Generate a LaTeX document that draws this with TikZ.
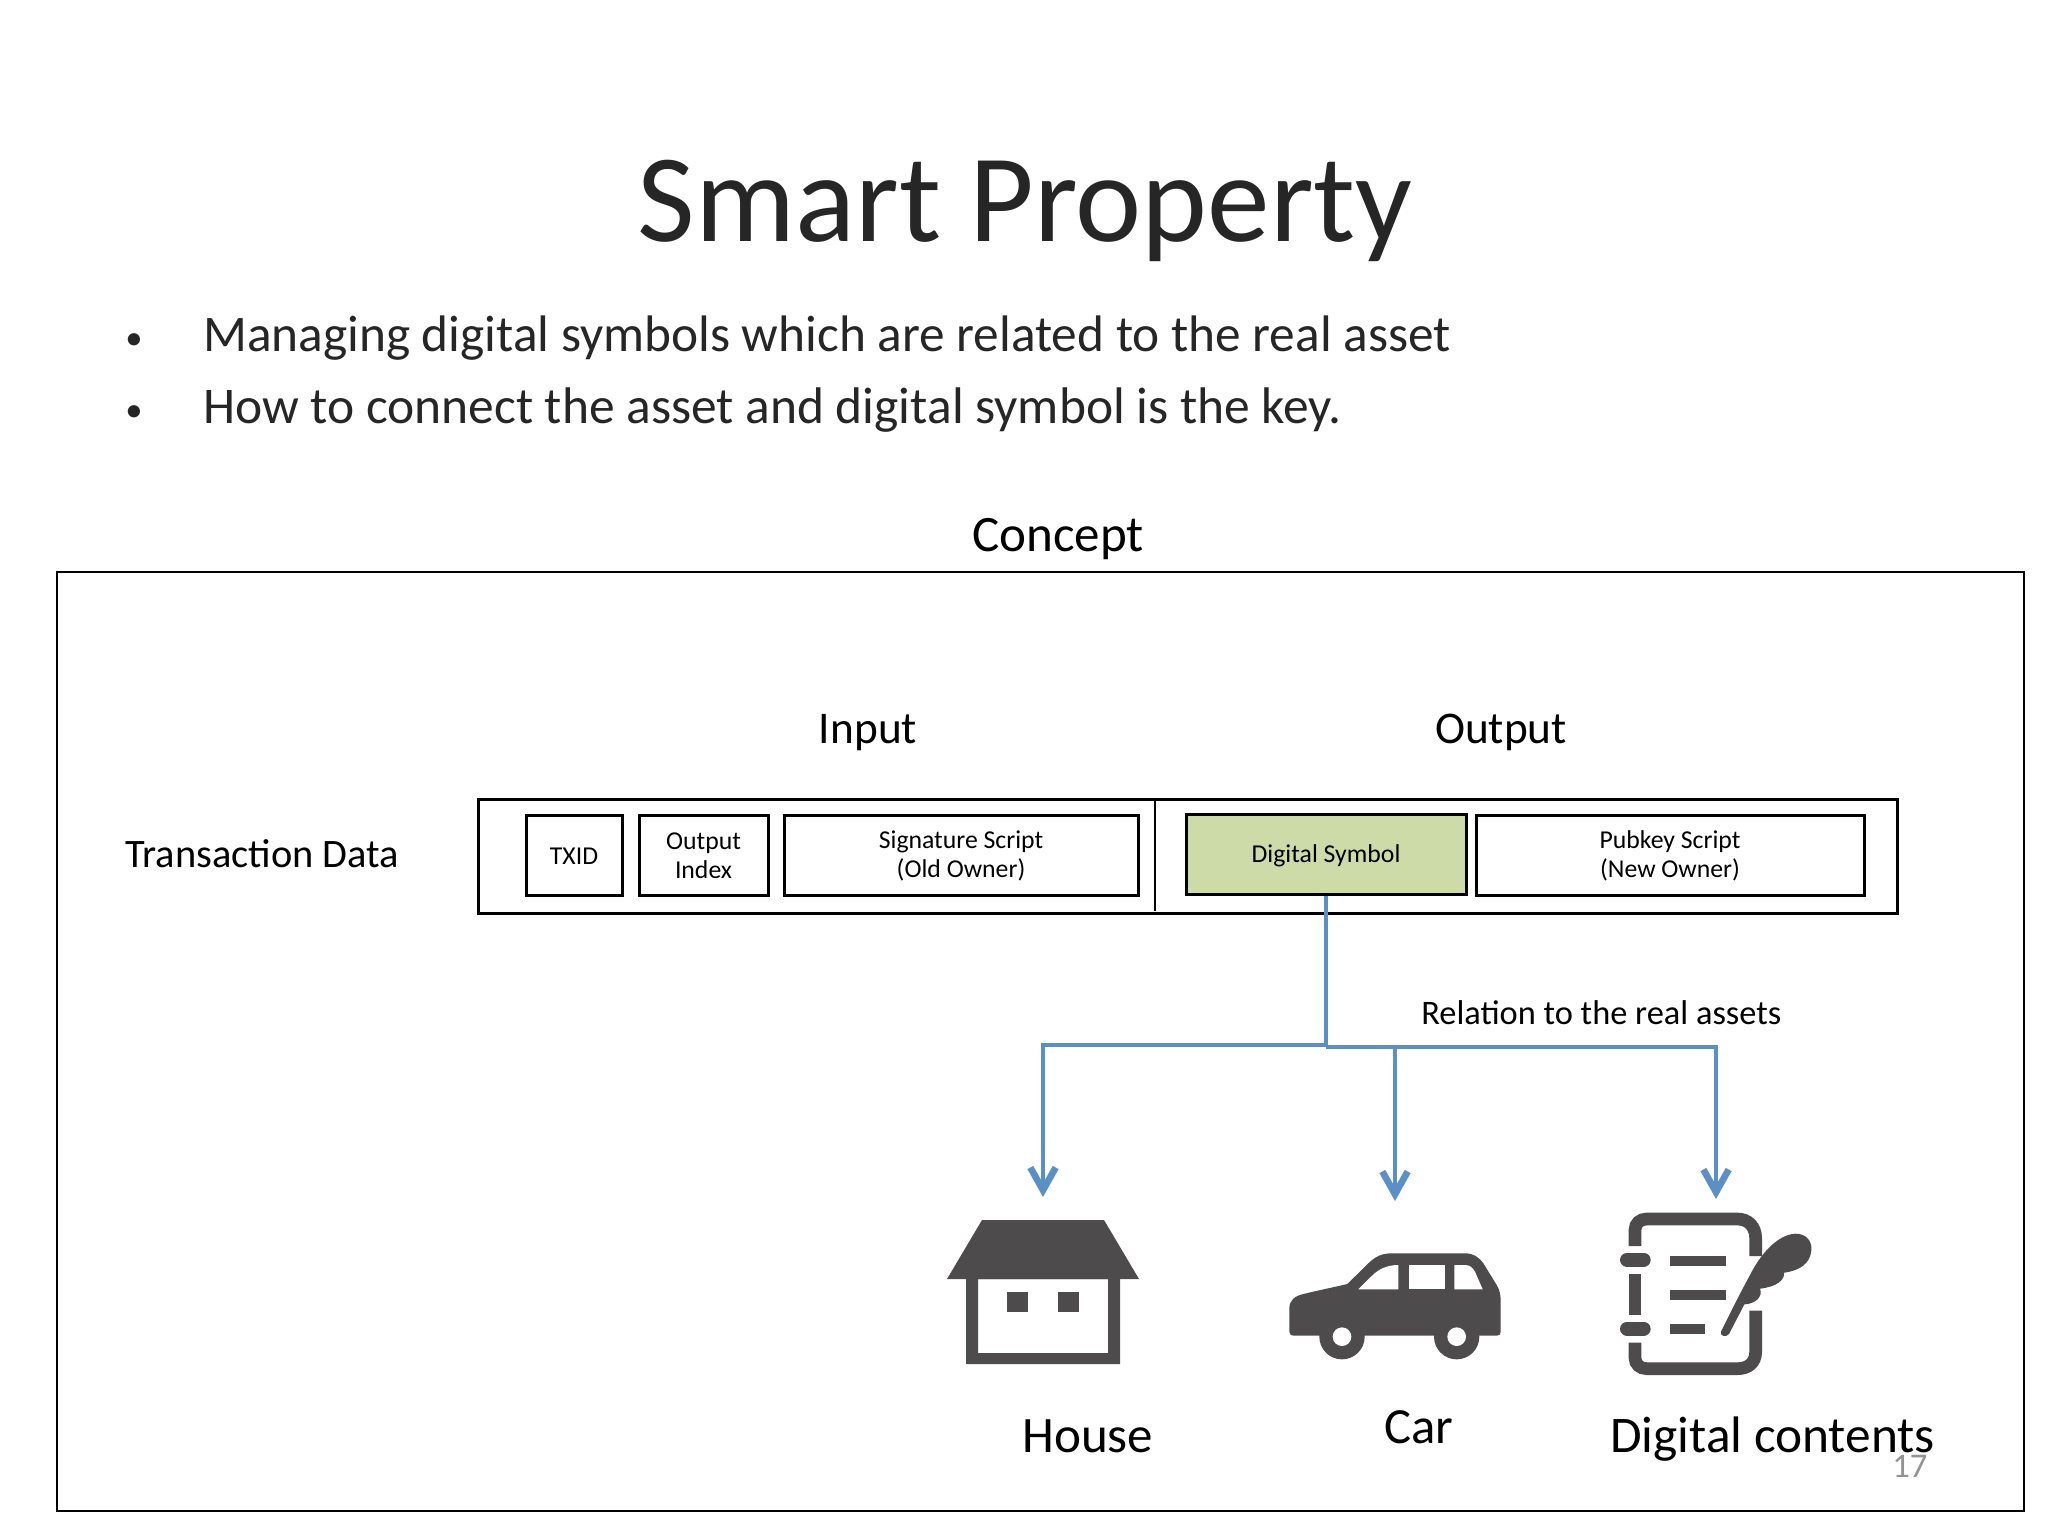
\documentclass[tikz,border=0pt]{standalone}
\usepackage{fontspec}
\setmainfont{Carlito}
\usetikzlibrary{arrows.meta}
\definecolor{icon}{HTML}{4D4B4C}
\definecolor{flow}{HTML}{5B90C6}
\definecolor{ink}{HTML}{262626}
\definecolor{symbolfill}{HTML}{CDDBA8}
\newcommand{\sz}[1]{\fontsize{#1}{#1}\selectfont}
\tikzset{
  label/.style={inner sep=0pt,anchor=base,black},
  cell/.style={draw=black,line width=2.3pt,fill=white,inner sep=0pt,anchor=north west},
  celltext/.style={inner sep=0pt,align=center,yshift=-0.8pt,font=\fontsize{19.3}{21.8}\selectfont},
  wire/.style={draw=flow,line width=3.4pt},
  tipwire/.style={wire,-{Straight Barb[length=17pt,width=19pt,line width=5pt]}},
}
\begin{document}
\begin{tikzpicture}[x=0.75pt,y=-0.75pt]
\useasboundingbox (0,0) rectangle (2048,1536);
\fill[white] (0,0) rectangle (2048,1536);
% texts
\node[label,text=ink] (title) at (1025,241) {\sz{94}Smart Property};
\node[label,text=ink] (b1) at (134,349) {\sz{26}•};
\node[label,text=ink,anchor=base west] (t1) at (203,351) {\sz{38.5}Managing digital symbols which are related to the real asset};
\node[label,text=ink] (b2) at (134,421) {\sz{26}•};
\node[label,text=ink,anchor=base west] (t2) at (203,423) {\sz{38.6}How to connect the asset and digital symbol is the key.};
\node[label] (concept) at (1058,551) {\sz{38.3}Concept};
\node[draw=black,line width=1.6pt,minimum width=1967*0.75pt,minimum height=939*0.75pt,inner sep=0pt,anchor=north west] (frame) at (56,571) {};
\node[label] (input) at (868,743) {\sz{34}Input};
\node[label] (output) at (1501,743) {\sz{34}Output};
\node[label,anchor=base west] (txdata) at (125,867) {\sz{30.3}Transaction Data};
% record
\node[draw=black,line width=2.4pt,minimum width=1419*0.75pt,minimum height=114*0.75pt,inner sep=0pt,anchor=north west] (record) at (476.5,797.5) {};
\coordinate (divTop) at (1155,798);
\coordinate (divBot) at (1155,911);
\draw[black,line width=1.8pt] (divTop) -- (divBot);
\node[cell,minimum width=96*0.75pt,minimum height=80*0.75pt] (txid) at (524.5,813.5) {};
\node[cell,minimum width=129*0.75pt,minimum height=80*0.75pt] (oindex) at (637.5,813.5) {};
\node[cell,minimum width=354*0.75pt,minimum height=80*0.75pt] (sig) at (782.5,813.5) {};
\node[cell,fill=symbolfill,minimum width=280*0.75pt,minimum height=80*0.75pt] (symbol) at (1184.5,813) {};
\node[cell,minimum width=388*0.75pt,minimum height=80*0.75pt] (pub) at (1474.5,813.5) {};
\node[celltext] (txidT) at (txid.center) {TXID};
\node[celltext] (oindexT) at (oindex.center) {Output\\Index};
\node[celltext] (sigT) at (sig.center) {Signature Script\\(Old Owner)};
\node[celltext] (symbolT) at (symbol.center) {Digital Symbol};
\node[celltext] (pubT) at (pub.center) {Pubkey Script\\(New Owner)};
\node[label,anchor=base west] (rel) at (1421,1024) {\sz{25.8}Relation to the real assets};
% connectors
\coordinate (jA) at (symbol.south |- 0,1045);
\coordinate (jB) at (symbol.south |- 0,1047);
\coordinate (hTurn) at (1043,1045);
\coordinate (cTurn) at (1395,1047);
\coordinate (dTurn) at (1716,1047);
\coordinate (hTip) at (1043,1197);
\coordinate (cTip) at (1395,1201);
\coordinate (dTip) at (1716,1199);
\draw[wire] (symbol.south) -- (jB);
\draw[tipwire] (jA) -- (hTurn) -- (hTip);
\draw[tipwire] (cTurn) -- (cTip);
\draw[tipwire] (jB) -- (dTurn) -- (dTip);
% house
\fill[icon] (982,1220) -- (1104,1220) -- (1139,1279) -- (947,1279) -- cycle;
\fill[icon,even odd rule] (966,1275) rectangle (1120,1364) (978,1279) rectangle (1108,1353);
\fill[icon] (1007,1292) rectangle (1028,1312);
\fill[icon] (1058,1292) rectangle (1079,1312);
% car
\begin{scope}[shift={(1270,1220)},x=0.25pt,y=-0.25pt]
\fill[icon] (58,265) .. controls (58,240) and (75,228) .. (100,222)
 .. controls (140,212) and (190,202) .. (232,192)
 -- (295,130) .. controls (315,110) and (335,100) .. (365,100)
 -- (585,100) .. controls (610,100) and (625,110) .. (640,130)
 -- (680,195) .. controls (690,212) and (692,225) .. (692,245)
 -- (692,335) .. controls (692,343) and (688,347) .. (680,347) -- (73,347)
 .. controls (62,347) and (58,342) .. (58,335) -- cycle;
\fill[icon] (216,350) circle[radius=17pt];
\fill[icon] (560,350) circle[radius=17pt];
\fill[white] (216,350) circle[radius=7pt];
\fill[white] (560,350) circle[radius=7pt];
\fill[white] (265,208) -- (305,168) .. controls (325,148) and (350,135) .. (385,135) -- (385,208) -- cycle;
\fill[white] (416,135) rectangle (524,208);
\fill[white] (553,135) -- (585,135) .. controls (600,135) and (608,143) .. (615,155) -- (638,208) -- (553,208) -- cycle;
\end{scope}
% document icon
\begin{scope}[shift={(1580,1180)},x=0.25pt,y=-0.25pt]
\draw[icon,line width=9.5pt] (165,198) -- (165,150) .. controls (165,130) and (180,117) .. (200,117) -- (472,117) .. controls (505,117) and (527,140) .. (527,175) -- (527,228);
\draw[icon,line width=9.5pt] (527,392) -- (527,515) .. controls (527,548) and (505,566) .. (472,566) -- (200,566) .. controls (180,566) and (165,553) .. (165,533) -- (165,488);
\draw[icon,line width=9.5pt] (165,282) -- (165,405);
\draw[icon,line width=10.5pt,line cap=round] (141,239) -- (191,239);
\draw[icon,line width=10.5pt,line cap=round] (141,446) -- (191,446);
\fill[icon] (271,229) rectangle (439,258);
\fill[icon] (271,331) rectangle (439,360);
\fill[icon] (271,433) rectangle (375,462);
\fill[icon] (423,455) .. controls (450,400) and (480,340) .. (510,285)
 .. controls (540,225) and (590,165) .. (645,161)
 .. controls (680,160) and (697,185) .. (694,212)
 .. controls (690,250) and (660,272) .. (612,278)
 .. controls (615,300) and (590,320) .. (540,326)
 .. controls (550,350) and (525,372) .. (493,373)
 -- (447,462) .. controls (438,473) and (418,468) .. (423,455) -- cycle;
\end{scope}
% labels
\node[label,anchor=base west] (house) at (1022,1452) {\sz{38.3}House};
\node[label] (car) at (1419,1443) {\sz{38}Car};
\node[label,anchor=base west] (digital) at (1610,1452) {\sz{38.5}Digital contents};
\node[label,text=gray!85,anchor=base west] (page) at (1892,1477) {\sz{26}17};
\end{tikzpicture}
\end{document}
